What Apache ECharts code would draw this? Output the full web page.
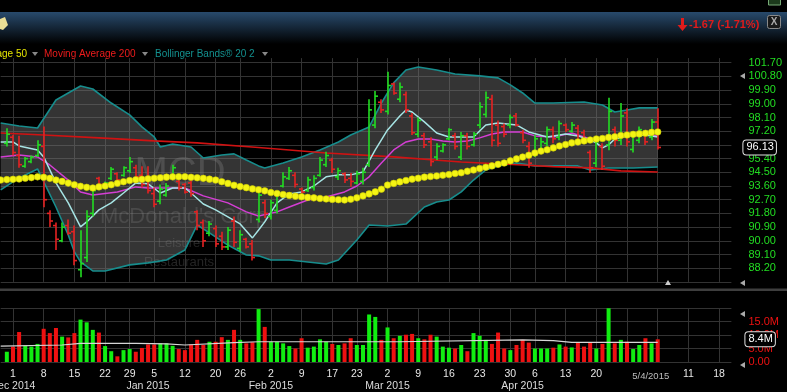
<!DOCTYPE html>
<html><head><meta charset="utf-8">
<script src="https://cdn.jsdelivr.net/npm/echarts@6/dist/echarts.min.js"></script>
<style>html,body{margin:0;padding:0;background:#000}#c{width:787px;height:392px}</style>
</head><body><div id="c"></div><script>
const dates = ['2014-11-26','2014-11-28',
'2014-12-01','2014-12-02','2014-12-03','2014-12-04','2014-12-05',
'2014-12-08','2014-12-09','2014-12-10','2014-12-11','2014-12-12',
'2014-12-15','2014-12-16','2014-12-17','2014-12-18','2014-12-19',
'2014-12-22','2014-12-23','2014-12-24','2014-12-26',
'2014-12-29','2014-12-30','2014-12-31','2015-01-02',
'2015-01-05','2015-01-06','2015-01-07','2015-01-08','2015-01-09',
'2015-01-12','2015-01-13','2015-01-14','2015-01-15','2015-01-16',
'2015-01-20','2015-01-21','2015-01-22','2015-01-23',
'2015-01-26','2015-01-27','2015-01-28','2015-01-29','2015-01-30',
'2015-02-02','2015-02-03','2015-02-04','2015-02-05','2015-02-06',
'2015-02-09','2015-02-10','2015-02-11','2015-02-12','2015-02-13',
'2015-02-17','2015-02-18','2015-02-19','2015-02-20',
'2015-02-23','2015-02-24','2015-02-25','2015-02-26','2015-02-27',
'2015-03-02','2015-03-03','2015-03-04','2015-03-05','2015-03-06',
'2015-03-09','2015-03-10','2015-03-11','2015-03-12','2015-03-13',
'2015-03-16','2015-03-17','2015-03-18','2015-03-19','2015-03-20',
'2015-03-23','2015-03-24','2015-03-25','2015-03-26','2015-03-27',
'2015-03-30','2015-03-31','2015-04-01','2015-04-02',
'2015-04-06','2015-04-07','2015-04-08','2015-04-09','2015-04-10',
'2015-04-13','2015-04-14','2015-04-15','2015-04-16','2015-04-17',
'2015-04-20','2015-04-21','2015-04-22','2015-04-23','2015-04-24',
'2015-04-27','2015-04-28','2015-04-29','2015-04-30','2015-05-01',
'2015-05-04','2015-05-05','2015-05-06','2015-05-07','2015-05-08',
'2015-05-11','2015-05-12','2015-05-13','2015-05-14','2015-05-15',
'2015-05-18','2015-05-19','2015-05-20'];

const open = [null,96.4,
96.8,95.6,94.9,95.2,95.6,96.2,91.8,91.0,90.0,91.0,
90.6,88.1,88.9,91.8,94.1,93.5,94.1,94.4,94.3,94.6,
94.8,94.3,94.0,93.1,92.6,93.0,94.3,93.9,93.7,93.8,
91.9,91.2,90.5,90.8,90.3,89.6,91.3,89.5,90.1,89.8,
91.4,92.5,91.6,92.0,93.6,94.1,94.3,93.4,93.3,93.5,
94.3,95.0,95.3,94.2,94.4,94.1,93.8,93.9,95.0,97.6,
99.1,98.5,100.3,99.3,99.6,98.2,97.0,96.9,96.5,95.5,
95.9,96.7,96.9,95.5,96.9,96.3,97.6,98.3,99.3,97.6,
97.5,97.6,98.2,97.1,96.2,95.7,95.9,96.4,97.3,96.8,
97.6,97.2,97.4,97.1,95.8,95.1,96.2,96.3,97.3,96.6,
98.4,96.0,96.6,97.0,96.8,97.8];
const high = [null,97.4,
96.95,96.9,95.5,95.6,96.6,97.5,92.0,91.2,91.2,91.4,
91.0,90.7,92.0,93.5,94.2,93.9,94.85,94.5,94.9,95.5,
95.0,94.9,94.9,93.5,93.7,93.8,95.0,94.0,93.8,94.1,
92.0,91.4,91.3,91.0,90.6,90.9,91.6,90.7,90.2,90.05,
93.5,92.7,92.7,93.2,94.5,94.85,94.5,93.5,94.2,94.3,
95.5,95.85,95.45,94.8,94.5,94.45,94.6,94.8,99.3,99.84,
99.3,101.1,100.4,100.4,99.8,98.4,98.1,97.1,96.8,96.4,
96.4,97.4,97.1,97.15,97.1,97.15,99.1,99.8,99.6,97.9,
97.7,98.3,98.4,97.3,96.5,96.95,96.8,97.5,97.5,97.9,
97.7,97.8,97.6,97.3,95.95,96.8,96.4,99.4,97.5,99.05,
98.7,97.1,97.5,97.15,98.0,98.7];
const low = [null,96.2,
95.6,94.8,94.8,95.1,95.5,92.2,90.9,89.4,89.9,90.4,
88.4,87.6,88.6,91.6,93.6,93.4,94.0,93.9,94.2,94.45,
94.0,93.5,93.1,92.2,92.4,92.9,94.2,93.3,93.1,92.9,
90.7,89.6,90.3,89.6,89.4,89.4,89.6,89.3,89.5,88.7,
91.2,91.5,91.4,91.8,93.5,94.0,93.5,93.1,93.2,93.3,
94.2,94.85,94.45,94.0,93.8,93.55,93.7,93.7,94.85,97.4,
98.4,98.3,99.6,99.1,98.4,96.95,96.8,96.1,94.9,95.3,
95.8,96.6,96.0,95.3,96.0,96.2,97.4,98.1,96.2,96.2,
96.8,97.4,97.5,96.4,94.8,95.5,95.8,96.2,96.4,96.6,
97.15,97.1,96.3,96.4,94.45,94.85,94.65,95.95,96.2,96.3,
96.2,95.8,96.4,96.3,96.6,96.0];
const close = [null,97.0,
95.8,95.0,95.4,95.5,96.3,92.7,91.3,90.1,90.9,90.5,
88.7,88.5,91.6,93.3,93.7,93.8,94.7,94.0,94.8,95.2,
94.2,93.7,93.3,92.4,93.4,93.6,94.8,93.5,93.2,93.1,
91.0,90.0,91.1,89.8,89.6,90.7,89.9,90.4,89.6,88.9,
93.0,91.8,92.5,93.0,94.2,94.6,93.7,93.2,94.0,94.1,
95.3,95.6,94.7,94.6,94.0,93.9,94.4,94.5,98.6,99.5,
98.6,100.2,99.7,100.1,98.6,97.1,97.9,96.3,95.2,96.2,
96.3,97.3,96.2,96.9,96.2,97.0,98.8,99.4,96.6,96.4,
97.0,98.1,97.6,96.6,95.1,96.7,96.5,97.3,96.7,97.7,
97.3,97.6,96.6,96.6,94.8,96.5,94.9,98.5,96.6,98.2,
96.5,96.9,97.3,96.5,97.8,96.13];
// volume in millions
const volume = [null,3.8,
5.7,11.1,6.0,5.7,6.7,12.3,10.7,12.6,9.4,9.1,
10.7,15.7,14.7,11.9,10.9,5.9,4.0,2.1,4.4,4.8,
3.8,5.2,6.5,6.5,6.9,6.9,6.0,4.8,4.4,6.5,
8.2,6.3,7.5,7.5,9.2,8.2,11.9,8.2,6.9,7.3,
19.6,13.0,7.5,7.5,6.9,5.9,5.0,8.8,5.3,5.7,
8.4,7.5,6.7,6.3,6.9,8.8,6.3,6.3,17.6,16.7,
8.2,12.8,8.8,9.7,10.1,10.4,8.8,8.4,10.1,9.4,
5.7,5.3,5.0,6.3,4.0,10.7,9.7,8.2,6.7,10.9,
5.0,4.4,6.3,8.2,7.2,5.0,5.0,5.0,5.3,6.5,
5.7,5.4,7.2,5.7,7.2,5.0,6.7,19.9,6.9,8.2,
7.5,4.8,6.3,8.8,6.9,8.4];
// Moving Average 50 (one value per session, from 2014-11-26)
const ma50 = [93.99,94.02,94.04,94.06,94.11,94.15,94.20,94.17,94.10,93.99,
93.90,93.79,93.68,93.58,93.51,93.47,93.54,93.60,93.68,93.78,
93.88,93.96,94.01,94.04,94.07,94.11,94.14,94.18,94.20,94.21,
94.21,94.17,94.14,94.10,94.05,93.99,93.88,93.77,93.65,93.56,
93.49,93.41,93.35,93.28,93.17,93.11,93.04,92.98,92.93,92.89,
92.85,92.82,92.78,92.75,92.72,92.70,92.68,92.73,92.82,92.95,
93.08,93.21,93.39,93.66,93.77,93.87,93.96,94.05,94.11,94.18,
94.22,94.26,94.31,94.35,94.42,94.47,94.57,94.65,94.75,94.83,
94.92,95.02,95.11,95.25,95.38,95.50,95.62,95.77,95.89,95.98,
96.10,96.23,96.32,96.43,96.49,96.56,96.62,96.69,96.72,96.79,
96.83,96.92,96.95,96.99,97.02,97.06,97.12,97.15];
const ma200 = [['2014-11-26',97.08],['2014-12-08',96.95],['2014-12-19',96.76],['2015-01-05',96.56],
['2015-01-14',96.43],['2015-01-29',96.13],['2015-02-13',95.77],['2015-03-03',95.51],['2015-03-18',95.18],
['2015-04-01',94.98],['2015-04-09',94.87],['2015-04-17',94.79],['2015-04-24',94.59],['2015-05-04',94.52]];
const bbUpper = [['2014-11-26',97.74],['2014-12-02',97.54],['2014-12-05',97.41],['2014-12-10',99.25],
['2014-12-16',100.17],['2014-12-18',99.97],['2014-12-23',99.05],['2014-12-29',98.27],['2014-12-31',97.48],
['2015-01-05',96.82],['2015-01-06',96.16],['2015-01-08',96.36],['2015-01-13',96.16],['2015-01-15',95.44],
['2015-01-21',95.64],['2015-01-23',95.71],['2015-01-27',95.31],['2015-01-29',94.92],['2015-01-30',94.78],
['2015-02-04',95.11],['2015-02-09',95.51],['2015-02-12',95.96],['2015-02-18',96.49],['2015-02-20',96.95],
['2015-02-25',97.48],['2015-02-27',99.05],['2015-03-03',100.37],['2015-03-05',101.22],['2015-03-09',101.42],
['2015-03-12',101.22],['2015-03-17',100.96],['2015-03-23',100.83],['2015-03-26',100.70],['2015-03-30',100.24],
['2015-04-01',99.71],['2015-04-06',99.05],['2015-04-09',99.05],['2015-04-16',99.12],['2015-04-21',98.92],
['2015-04-23',98.46],['2015-04-27',98.59],['2015-04-29',98.73],['2015-05-04',98.73]];
const bbLower = [['2014-11-26',93.34],['2014-12-02',94.13],['2014-12-05',94.72],['2014-12-10',92.22],
['2014-12-12',90.38],['2014-12-15',89.27],['2014-12-16',88.61],['2014-12-18',88.02],['2014-12-22',88.02],
['2014-12-29',88.42],['2015-01-02',88.55],['2015-01-07',88.74],['2015-01-12',89.40],['2015-01-14',91.04],
['2015-01-16',90.52],['2015-01-22',89.72],['2015-01-27',89.07],['2015-01-29',89.01],['2015-02-02',88.74],
['2015-02-05',88.74],['2015-02-10',88.61],['2015-02-13',88.48],['2015-02-18',88.74],['2015-02-23',90.05],
['2015-02-25',91.04],['2015-03-02',90.97],['2015-03-05',91.10],['2015-03-10',92.22],['2015-03-12',92.55],
['2015-03-16',92.68],['2015-03-18',93.21],['2015-03-20',93.99],['2015-03-24',94.65],['2015-03-26',94.92],
['2015-03-31',95.11],['2015-04-06',94.92],['2015-04-09',94.92],['2015-04-15',94.92],['2015-04-17',94.65],
['2015-04-22',94.78],['2015-04-28',94.78],['2015-05-04',94.85]];
const shortMA = [['2014-11-26',96.49],['2014-12-01',96.49],['2014-12-02',96.23],['2014-12-05',95.97],
['2014-12-08',95.51],['2014-12-10',93.80],['2014-12-12',92.49],['2014-12-16',90.91],['2014-12-17',91.24],
['2014-12-19',92.03],['2014-12-23',92.49],['2014-12-26',93.14],['2014-12-30',93.80],['2015-01-02',93.74],
['2015-01-06',93.14],['2015-01-08',93.47],['2015-01-12',93.47],['2015-01-13',93.14],['2015-01-15',92.42],
['2015-01-20',92.03],['2015-01-22',91.57],['2015-01-26',91.11],['2015-01-28',90.19],['2015-01-29',90.71],
['2015-01-30',91.24],['2015-02-03',92.49],['2015-02-05',93.08],['2015-02-09',93.21],['2015-02-11',93.60],
['2015-02-13',94.20],['2015-02-18',94.33],['2015-02-20',94.33],['2015-02-24',94.52],['2015-02-26',95.97],
['2015-03-02',97.28],['2015-03-04',98.20],['2015-03-05',98.59],['2015-03-06',98.46],['2015-03-10',97.81],
['2015-03-12',97.08],['2015-03-16',96.82],['2015-03-18',96.82],['2015-03-20',96.82],['2015-03-24',97.61],
['2015-03-26',97.74],['2015-03-31',97.61],['2015-04-02',97.15],['2015-04-08',96.82],['2015-04-13',97.02],
['2015-04-15',96.89],['2015-04-17',96.62],['2015-04-20',96.43],['2015-04-21',96.10],['2015-04-22',96.30],
['2015-04-23',96.69],['2015-04-27',96.89],['2015-04-30',96.95],['2015-05-04',96.82]];
const midMA = [['2014-11-26',95.51],['2014-12-02',95.64],['2014-12-05',95.51],['2014-12-09',94.98],
['2014-12-12',93.99],['2014-12-16',93.21],['2014-12-18',93.01],['2014-12-24',93.21],['2014-12-30',93.54],
['2015-01-02',93.47],['2015-01-07',93.47],['2015-01-12',93.47],['2015-01-15',92.95],['2015-01-22',92.49],
['2015-01-27',91.90],['2015-01-29',91.63],['2015-02-03',91.90],['2015-02-05',92.22],['2015-02-10',92.68],
['2015-02-13',92.88],['2015-02-19',93.21],['2015-02-23',93.60],['2015-02-25',94.20],['2015-02-27',95.11],
['2015-03-03',95.97],['2015-03-05',96.49],['2015-03-09',96.69],['2015-03-11',96.69],['2015-03-13',96.56],
['2015-03-17',96.49],['2015-03-19',96.56],['2015-03-23',96.76],['2015-03-25',97.02],['2015-03-27',97.15],
['2015-04-01',97.15],['2015-04-06',96.89],['2015-04-09',96.82],['2015-04-14',97.08],['2015-04-17',96.69],
['2015-04-21',96.69],['2015-04-24',96.95],['2015-04-29',97.02],['2015-05-04',96.89]];
const volMA = [['2014-11-26',5.9],['2014-12-11',6.3],['2014-12-16',6.9],['2014-12-30',6.9],['2015-01-07',6.7],
['2015-01-12',6.3],['2015-01-23',7.2],['2015-01-29',7.5],['2015-02-17',7.5],['2015-03-04',7.5],
['2015-04-01',8.2],['2015-04-09',7.9],['2015-04-14',7.3],['2015-05-04',7.3]];

const weekStarts = ['2014-12-01','2014-12-08','2014-12-15','2014-12-22','2014-12-29','2015-01-05','2015-01-12',
'2015-01-20','2015-01-26','2015-02-02','2015-02-09','2015-02-17','2015-02-23','2015-03-02','2015-03-09',
'2015-03-16','2015-03-23','2015-03-30','2015-04-06','2015-04-13','2015-04-20','2015-04-27','2015-05-04',
'2015-05-11','2015-05-18'];
const weekLabels = ['2014-12-01','2014-12-08','2014-12-15','2014-12-22','2014-12-29','2015-01-05','2015-01-12',
'2015-01-20','2015-01-26','2015-02-02','2015-02-09','2015-02-17','2015-02-23','2015-03-02','2015-03-09',
'2015-03-16','2015-03-23','2015-03-30','2015-04-06','2015-04-13','2015-04-20','2015-05-11','2015-05-18'];
const monthStarts = ['2014-12-01','2015-01-02','2015-02-02','2015-03-02','2015-04-01'];
const monthLabels = ['Dec 2014','Jan 2015','Feb 2015','Mar 2015','Apr 2015'];
const cursorDate = '2015-05-04';
const cursorLabel = '5/4/2015';
const legendNames = ['Moving Average 50','Moving Average 200','Bollinger Bands\u00ae 20 2'];
const watermark = ['MCD',"McDonald's Corp",'Leisure','Restaurants'];

const UP = '#22dd22', DOWN = '#e52222';
const FONT = '"Liberation Sans", Arial, sans-serif';
const idx = d => dates.indexOf(d);
const pairs = arr => arr.map(([d, v]) => [idx(d), v]);
const weekSet = new Set(weekStarts);
const labelSet = new Set([...weekLabels, ...monthStarts, cursorDate]);

const ohlcData = [];
dates.forEach((d, k) => { if (open[k] != null) ohlcData.push([k, open[k], high[k], low[k], close[k]]); });
const volData = volume.map((v, k) => v == null ? null :
  ({ value: v, itemStyle: { color: close[k] >= open[k] ? '#11ee11' : '#ee1111' } }));

const lastK = close.length - 1;
const lastClose = close[lastK], prevClose = close[lastK - 1];
const chg = lastClose - prevClose, pct = chg / prevClose * 100;
const lastVol = volume[volume.length - 1];

const chart = echarts.init(document.getElementById('c'), null, { width: 787, height: 392 });

const xAxisBase = (gi, withLabels) => ({
  type: 'category', gridIndex: gi, data: dates, boundaryGap: false,
  axisLine: { show: false }, axisTick: { show: false },
  splitLine: { show: true, interval: (i, v) => weekSet.has(v), lineStyle: { color: '#333', width: 1 } },
  axisLabel: withLabels ? {
    show: true, interval: (i, v) => labelSet.has(v), margin: 6, hideOverlap: false,
    color: '#e6e6e6', fontSize: 10.5, fontFamily: FONT, lineHeight: 12,
    formatter: (v) => {
      if (v === cursorDate) return '{c|' + cursorLabel + '}';
      const day = weekLabels.includes(v) ? String(+v.slice(8)) : '';
      const mi = monthStarts.indexOf(v);
      return day + (mi >= 0 ? '\n{m|' + monthLabels[mi] + '}' : '');
    },
    rich: {
      m: { color: '#dcdcdc', fontSize: 10.5, fontFamily: FONT, lineHeight: 12 },
      c: { color: '#bdbdbd', fontSize: 9.5, fontFamily: FONT, lineHeight: 12, padding: [5, 14, 0, 0] }
    }
  } : { show: false }
});

const tri = (pts, fill) => ({ type: 'polygon', shape: { points: pts }, style: { fill }, z: 10, silent: true });
const txt = (text, x, y, opt) => ({ type: 'text', z: opt.z || 10, silent: true,
  style: Object.assign({ text, x, y, fontFamily: FONT, align: opt.align || 'left', textAlign: opt.align || 'left',
    verticalAlign: 'middle', textVerticalAlign: 'middle' }, opt.style) });

const graphic = [
  { type: 'rect', z: -5, silent: true, shape: { x: 0, y: 12, width: 787, height: 32 },
    style: { fill: new echarts.graphic.LinearGradient(0, 0, 0, 1, [{ offset: 0, color: '#284a6c' }, { offset: 1, color: '#000' }]) } },
  tri([[0, 19], [5, 17], [8, 25], [3, 30], [0, 29]], '#e9dd95'),
  tri([[681, 18], [684, 18], [684, 25], [687.5, 25], [682.5, 31], [677.5, 25], [681, 25]], '#e01b1b'),
  txt(chg.toFixed(2) + ' (' + pct.toFixed(2) + '%)', 689, 25, { style: { fill: '#e01b1b', fontSize: 11, fontWeight: 'bold' } }),
  { type: 'rect', z: 10, silent: true, shape: { x: 767.5, y: 15.5, width: 13, height: 13, r: 2 }, style: { fill: '#1a1a1a', stroke: '#8a8a8a', lineWidth: 1 } },
  txt('X', 774, 22.5, { align: 'center', style: { fill: '#aaa', fontSize: 10, fontWeight: 'bold' } }),
  { type: 'rect', z: 10, silent: true, shape: { x: 768.5, y: -3, width: 12, height: 8 }, style: { fill: '#1c3a1c', stroke: '#7a7', lineWidth: 1 } },
  txt(legendNames[0], 27, 54, { align: 'right', style: { fill: '#e6e600', fontSize: 10 } }),
  tri([[32, 52], [38, 52], [35, 56]], '#888'),
  txt(legendNames[1], 44, 54, { style: { fill: '#ee1c1c', fontSize: 10 } }),
  tri([[142, 52], [148, 52], [145, 56]], '#888'),
  txt(legendNames[2], 155, 54, { style: { fill: '#13918f', fontSize: 10 } }),
  tri([[262, 52], [268, 52], [265, 56]], '#888'),
  txt(watermark[0], 180, 174, { z: 2, align: 'center', style: { fill: 'rgba(140,140,140,0.3)', fontSize: 40 } }),
  txt(watermark[1], 184, 217, { z: 2, align: 'center', style: { fill: 'rgba(140,140,140,0.26)', fontSize: 22 } }),
  txt(watermark[2], 179, 243, { z: 2, align: 'center', style: { fill: 'rgba(140,140,140,0.26)', fontSize: 13 } }),
  txt(watermark[3], 179, 262, { z: 2, align: 'center', style: { fill: 'rgba(140,140,140,0.26)', fontSize: 13 } }),
  { type: 'rect', z: 10, silent: true, shape: { x: 0, y: 288.5, width: 787, height: 2.5 }, style: { fill: '#3e3e3e' } },
  tri([[740, 76], [745, 73], [745, 79]], '#aaa'),
  tri([[740, 283], [745, 280], [745, 286]], '#aaa'),
  tri([[665, 285], [671, 285], [668, 280]], '#ccc'),
  tri([[740, 314], [745, 311], [745, 317]], '#aaa'),
  tri([[740, 365], [745, 362], [745, 368]], '#aaa')
];

const boxLabel = (text, dist) => ({
  show: true, position: 'end', distance: dist, formatter: text, opacity: 1,
  color: '#fff', backgroundColor: '#000', borderColor: '#e0e0e0', borderWidth: 1, borderRadius: 3,
  padding: [2, 2, 1, 3], fontSize: 11, fontFamily: FONT
});
const hiddenLine = { color: 'rgba(0,0,0,0)', width: 1, type: 'solid' };

const option = {
  backgroundColor: '#000',
  animation: false,
  textStyle: { fontFamily: FONT },
  graphic,
  grid: [
    { left: 0.7, right: 55.6, top: 58.1, bottom: 110.1, containLabel: false, outerBoundsMode: 'none' },
    { left: 0.7, right: 55.6, top: 308, bottom: 30, containLabel: false, outerBoundsMode: 'none' }
  ],
  xAxis: [xAxisBase(0, false), xAxisBase(1, true)],
  yAxis: [
    { type: 'value', gridIndex: 0, position: 'right', min: 87.3, max: 102.0, interval: 0.9,
      axisLine: { show: false }, axisTick: { show: false },
      splitLine: { show: true, showMaxLine: false, lineStyle: { color: '#333' } },
      axisLabel: { margin: 17, color: '#22dd22', fontSize: 11, fontFamily: FONT, showMinLabel: false, showMaxLabel: false,
        formatter: v => v.toFixed(2) } },
    { type: 'value', gridIndex: 1, position: 'right', min: 0, max: 20, interval: 5,
      axisLine: { show: false }, axisTick: { show: false },
      splitLine: { show: true, lineStyle: { color: '#333' } },
      axisLabel: { margin: 17, color: '#ee1111', fontSize: 11, fontFamily: FONT, showMaxLabel: false,
        formatter: v => v === 0 ? '0.00' : v.toFixed(1) + 'M' } }
  ],
  series: [
    { type: 'custom', name: 'band', xAxisIndex: 0, yAxisIndex: 0, z: 1, silent: true,
      data: [[0, 95]],
      renderItem: (params, api) => {
        const pts = [];
        bbUpper.forEach(([d, v]) => pts.push(api.coord([idx(d), v])));
        bbLower.slice().reverse().forEach(([d, v]) => pts.push(api.coord([idx(d), v])));
        return { type: 'polygon', shape: { points: pts }, style: { fill: 'rgba(115,115,115,0.45)' } };
      } },
    { type: 'line', name: 'BB upper', data: pairs(bbUpper), z: 3, symbol: 'none', silent: true,
      lineStyle: { color: '#178d8d', width: 1.6 } },
    { type: 'line', name: 'BB lower', data: pairs(bbLower), z: 3, symbol: 'none', silent: true,
      lineStyle: { color: '#178d8d', width: 1.6 } },
    { type: 'line', name: 'MA200', data: pairs(ma200), z: 3, symbol: 'none', silent: true,
      lineStyle: { color: '#d01212', width: 1.6 } },
    { type: 'line', name: 'mid', data: pairs(midMA), z: 4, symbol: 'none', silent: true,
      lineStyle: { color: '#d43ed4', width: 1.5 } },
    { type: 'line', name: 'short', data: pairs(shortMA), z: 4, symbol: 'none', silent: true,
      lineStyle: { color: '#a6e4e4', width: 1.5 } },
    { type: 'custom', name: 'OHLC', xAxisIndex: 0, yAxisIndex: 0, z: 5, silent: true,
      data: ohlcData, encode: { x: 0, y: [1, 2, 3, 4] },
      renderItem: (params, api) => {
        const i = api.value(0);
        const o = api.value(1), h = api.value(2), l = api.value(3), c = api.value(4);
        const pH = api.coord([i, h]), pL = api.coord([i, l]), pO = api.coord([i, o]), pC = api.coord([i, c]);
        const col = c >= o ? UP : DOWN;
        const x = Math.round(pH[0]);
        const st = { stroke: col, lineWidth: 1.6 };
        return { type: 'group', children: [
          { type: 'line', shape: { x1: x, y1: pH[1], x2: x, y2: pL[1] }, style: st },
          { type: 'line', shape: { x1: x - 3, y1: pO[1], x2: x, y2: pO[1] }, style: st },
          { type: 'line', shape: { x1: x, y1: pC[1], x2: x + 3, y2: pC[1] }, style: st }
        ] };
      } },
    { type: 'line', name: 'MA50', data: ma50, z: 6, silent: true, showAllSymbol: true,
      symbol: 'circle', symbolSize: 6.6,
      itemStyle: { color: '#f4f414', borderColor: '#caca00', borderWidth: 0.6 },
      lineStyle: { width: 0, opacity: 0 } },
    { type: 'line', name: 'last price', data: [[idx(dates[lastK]), lastClose]], z: 9, silent: true,
      symbol: 'none', lineStyle: hiddenLine,
      markLine: { silent: true, symbol: ['none', 'none'], lineStyle: hiddenLine, label: boxLabel(lastClose.toFixed(2), 12),
        data: [{ yAxis: lastClose }] } },
    { type: 'bar', name: 'Volume', xAxisIndex: 1, yAxisIndex: 1, data: volData, barWidth: 4, silent: true, z: 3 },
    { type: 'line', name: 'Vol MA', xAxisIndex: 1, yAxisIndex: 1, data: pairs(volMA), z: 4, symbol: 'none', silent: true,
      lineStyle: { color: '#d6d6d6', width: 1.2 } },
    { type: 'line', name: 'last volume', xAxisIndex: 1, yAxisIndex: 1, data: [[idx(dates[lastK]), lastVol]], z: 9, silent: true,
      symbol: 'none', lineStyle: hiddenLine,
      markLine: { silent: true, symbol: ['none', 'none'], lineStyle: hiddenLine, label: boxLabel(lastVol.toFixed(1) + 'M', 14),
        data: [{ yAxis: lastVol }] } }
  ]
};
chart.setOption(option);
</script></body></html>
